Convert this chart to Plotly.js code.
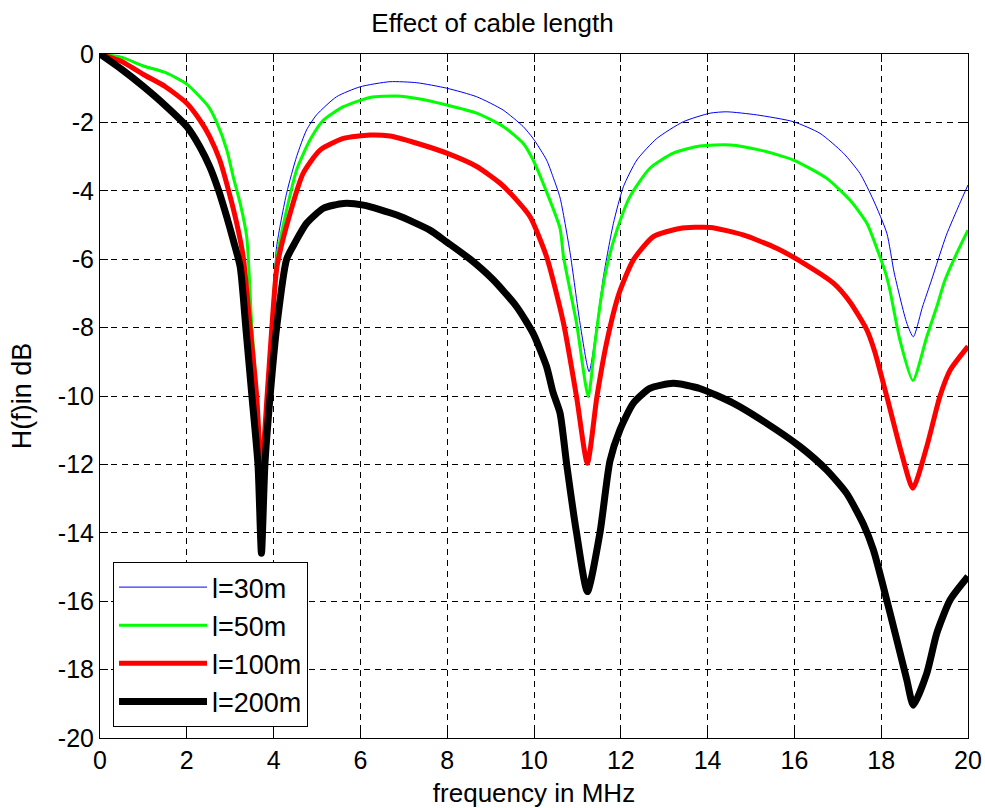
<!DOCTYPE html>
<html>
<head>
<meta charset="utf-8">
<script src="https://cdn.plot.ly/plotly-3.0.1.min.js"></script>
<style>html,body{margin:0;padding:0;background:#fff;}#chart{width:985px;height:808px;}</style>
</head>
<body>
<div id="chart"></div>
<script>
// ---- data ----
const seriesNames = ['l=30m', 'l=50m', 'l=100m', 'l=200m'];

const x30 = [0,0.5,1,1.5,2,2.3,2.5,2.69,2.92,3.07,3.23,3.38,3.5,3.62,3.72,3.84,3.95,4.07,4.3,4.53,4.76,4.99,5.45,5.99,6.68,7.3,7.99,8.68,9.29,9.75,9.98,10.29,10.44,10.6,10.83,11.06,11.27,11.45,11.6,11.83,12.06,12.37,12.83,13.44,14.06,14.44,15.13,15.98,16.59,17.13,17.51,17.82,18.13,18.3,18.59,18.74,18.95,19.16,19.5,19.8,20];
const y30 = [0,-0.08,-0.33,-0.52,-0.85,-1.23,-1.52,-1.98,-2.78,-3.55,-4.33,-5.3,-7.9,-9.9,-11.8,-9.8,-7.8,-5.63,-4.07,-3.0,-2.22,-1.78,-1.25,-0.96,-0.81,-0.84,-1.0,-1.25,-1.64,-2.12,-2.47,-3.1,-3.6,-4.2,-5.8,-7.87,-9.29,-7.9,-6.51,-4.95,-3.88,-3.1,-2.47,-1.98,-1.73,-1.69,-1.78,-1.98,-2.32,-2.9,-3.49,-4.27,-5.24,-6.4,-7.87,-8.27,-7.4,-6.61,-5.3,-4.4,-3.83];

const x50 = [0,0.5,1,1.5,2,2.3,2.5,2.69,2.92,3.07,3.23,3.38,3.5,3.62,3.72,3.84,3.95,4.07,4.3,4.53,4.84,5.15,5.61,6.22,6.84,7.3,7.99,8.68,9.29,9.75,9.98,10.21,10.6,10.68,10.98,11.25,11.4,11.55,11.7,11.91,12.21,12.67,13.21,13.82,14.52,15.21,15.98,16.74,17.28,17.67,17.97,18.1,18.2,18.43,18.73,19.05,19.28,19.47,19.75,20];
const y50 = [0,-0.1,-0.35,-0.54,-0.88,-1.25,-1.54,-2.0,-2.8,-3.59,-4.37,-5.34,-8.0,-10.0,-12.0,-10.0,-8.0,-6.0,-4.56,-3.39,-2.51,-1.93,-1.54,-1.27,-1.23,-1.3,-1.49,-1.73,-2.12,-2.61,-3.1,-3.78,-5.1,-5.93,-7.87,-10.02,-8.5,-7.1,-6.1,-5.15,-4.17,-3.34,-2.9,-2.69,-2.66,-2.81,-3.1,-3.63,-4.27,-4.95,-5.93,-6.4,-6.9,-8.36,-9.55,-8.27,-7.39,-6.61,-5.8,-5.15];

const x100 = [0,0.5,1,1.5,2,2.3,2.53,2.76,2.96,3.15,3.3,3.46,3.61,3.72,3.85,3.96,4.08,4.38,4.68,5.07,5.61,6.22,6.68,7.3,7.99,8.68,9.22,9.55,9.91,10.29,10.68,10.98,11.23,11.45,11.68,11.96,12.29,12.75,13.36,14.06,14.82,15.59,16.28,16.9,17.28,17.67,17.85,18.13,18.47,18.73,19.05,19.35,19.59,20];
const y100 = [0,-0.22,-0.6,-0.95,-1.44,-1.93,-2.42,-3.1,-3.98,-4.95,-5.93,-8.0,-10.0,-12.2,-10.0,-8.0,-6.2,-4.66,-3.49,-2.81,-2.47,-2.37,-2.4,-2.61,-2.9,-3.29,-3.78,-4.2,-4.76,-5.93,-7.87,-10.02,-11.97,-10.02,-8.4,-7.0,-6.02,-5.34,-5.1,-5.07,-5.29,-5.68,-6.17,-6.7,-7.25,-8.07,-8.7,-10.02,-11.68,-12.7,-11.48,-10.02,-9.24,-8.55];

const x200 = [0,0.5,1,1.5,2,2.3,2.53,2.73,2.92,3.07,3.23,3.36,3.5,3.64,3.72,3.8,3.92,4.07,4.3,4.5,4.76,5.15,5.61,6.07,6.84,7.6,7.99,8.53,9.06,9.6,9.98,10.29,10.44,10.6,10.75,10.98,11.23,11.52,11.75,11.98,12.29,12.67,13.21,13.82,14.59,15.36,16.13,16.74,17.2,17.59,17.82,18.05,18.36,18.59,18.74,19.05,19.28,19.59,20];
const y200 = [0,-0.45,-0.95,-1.5,-2.12,-2.71,-3.3,-3.98,-4.76,-5.44,-6.22,-8.0,-10.0,-12.0,-14.6,-12.0,-10.0,-8.0,-6.0,-5.5,-4.95,-4.51,-4.37,-4.42,-4.71,-5.15,-5.5,-6.0,-6.6,-7.39,-8.17,-9.14,-9.9,-10.5,-11.97,-14.0,-15.72,-14.0,-11.9,-10.99,-10.21,-9.78,-9.63,-9.78,-10.21,-10.8,-11.48,-12.16,-12.84,-13.75,-14.5,-15.58,-17.13,-18.3,-19.04,-18.11,-16.94,-15.96,-15.28];

const xTickVals = [0,2,4,6,8,10,12,14,16,18,20];
const xTickText = ['0','2','4','6','8','10','12','14','16','18','20'];
const yTickVals = [0,-2,-4,-6,-8,-10,-12,-14,-16,-18,-20];
const yTickText = ['0','-2','-4','-6','-8','-10','-12','-14','-16','-18','-20'];

const chartTitle = 'Effect of cable length';
const xTitle = 'frequency in MHz';
const yTitle = 'H(f)in dB';

// ---- styles ----
const colors = ['#0000ff', '#00ff00', '#ff0000', '#000000'];
const widths = [1, 3, 5, 7];
const xs = [x30, x50, x100, x200];
const ys = [y30, y50, y100, y200];

const FONT = 'Liberation Sans, Arial, sans-serif';

const traces = seriesNames.map((n, i) => ({
  type: 'scatter', mode: 'lines', name: n,
  x: xs[i], y: ys[i],
  line: {color: colors[i], width: widths[i], shape: 'spline', smoothing: 0.6}
}));

const axisCommon = {
  showline: true, linecolor: '#000', linewidth: 1, mirror: 'ticks',
  ticks: 'inside', ticklen: 8, tickcolor: '#000', tickwidth: 1,
  showgrid: true, gridcolor: '#000', gridwidth: 1, griddash: '6px,5px',
  zeroline: false,
  tickfont: {family: FONT, size: 25, color: '#000'}
};

const layout = {
  width: 985, height: 808,
  margin: {l: 100, r: 17, t: 54, b: 70},
  paper_bgcolor: '#fff', plot_bgcolor: '#fff',
  showlegend: true,
  title: {text: chartTitle, font: {family: FONT, size: 26, color: '#000'}, x: 0.5, xanchor: 'center', y: 0.972, yanchor: 'middle'},
  xaxis: Object.assign({}, axisCommon, {
    range: [0, 20], tickvals: xTickVals, ticktext: xTickText,
    title: {text: xTitle, font: {family: FONT, size: 26, color: '#000'}, standoff: 10}
  }),
  yaxis: Object.assign({}, axisCommon, {
    range: [-20, 0], tickvals: yTickVals, ticktext: yTickText,
    title: {text: yTitle, font: {family: FONT, size: 27, color: '#000'}, standoff: 18}
  }),
  legend: {
    x: 0.015, y: 0.016, xanchor: 'left', yanchor: 'bottom',
    bgcolor: '#fff', bordercolor: '#000', borderwidth: 1,
    font: {family: FONT, size: 27, color: '#000'},
    itemwidth: 88
  }
};

Plotly.newPlot('chart', traces, layout, {displayModeBar: false, staticPlot: true});
</script>
</body>
</html>
